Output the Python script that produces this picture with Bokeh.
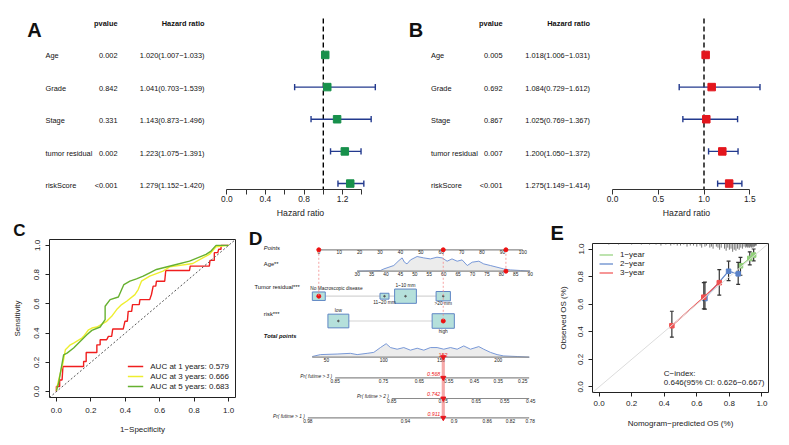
import math
from bokeh.plotting import figure
from bokeh.layouts import column, row
from bokeh.models import (Range1d, FixedTicker, Legend, LegendItem, Slope,
                          NumeralTickFormatter, CustomJSTickFormatter)
from bokeh.core.properties import value
from bokeh.embed import file_html
from bokeh.resources import INLINE

FONT = "Liberation Sans"

# ======================= DATA =======================
variables = ["Age", "Grade", "Stage", "tumor residual", "riskScore"]
# Panel A (univariate Cox)
uni_pvalue = ["0.002", "0.842", "0.331", "0.002", "<0.001"]
uni_hr = [1.020, 1.041, 1.143, 1.223, 1.279]
uni_low = [1.007, 0.703, 0.873, 1.075, 1.152]
uni_high = [1.033, 1.539, 1.496, 1.391, 1.420]
# Panel B (multivariate Cox)
multi_pvalue = ["0.005", "0.692", "0.867", "0.007", "<0.001"]
multi_hr = [1.018, 1.084, 1.025, 1.200, 1.275]
multi_low = [1.006, 0.729, 0.769, 1.050, 1.149]
multi_high = [1.031, 1.612, 1.367, 1.372, 1.414]
ticks_A = [0.0, 0.2, 0.4, 0.6, 0.8, 1.0, 1.2, 1.4]
ticks_B = [0.0, 0.5, 1.0, 1.5]

# Panel C (time-dependent ROC)
roc_labels = ["AUC at 1 years: 0.579", "AUC at 3 years: 0.666", "AUC at 5 years: 0.683"]
fpr_1y = [0, 0, 0.019, 0.019, 0.033, 0.038, 0.158, 0.158, 0.173, 0.173, 0.235, 0.235, 0.254, 0.254,
          0.292, 0.302, 0.321, 0.327, 0.388, 0.398, 0.412, 0.417, 0.437, 0.442, 0.481, 0.485,
          0.542, 0.552, 0.562, 0.577, 0.581, 0.629, 0.635, 0.773, 0.777, 0.888, 0.892, 0.917,
          0.917, 0.937, 0.942, 0.956, 0.956, 1.0]
tpr_1y = [0, 0.035, 0.035, 0.08, 0.08, 0.172, 0.172, 0.206, 0.206, 0.268, 0.268, 0.32, 0.32, 0.355,
          0.355, 0.378, 0.378, 0.428, 0.428, 0.481, 0.481, 0.549, 0.549, 0.595, 0.595, 0.629,
          0.629, 0.664, 0.721, 0.721, 0.755, 0.755, 0.828, 0.828, 0.858, 0.858, 0.897, 0.897,
          0.95, 0.95, 0.973, 0.973, 1.0, 1.0]
fpr_3y = [0, 0.013, 0.023, 0.038, 0.052, 0.081, 0.10, 0.148, 0.158, 0.187, 0.206, 0.235, 0.292,
          0.321, 0.35, 0.379, 0.408, 0.456, 0.475, 0.494, 0.542, 0.619, 0.658, 0.792, 0.85,
          0.888, 0.927, 1.0]
tpr_3y = [0.007, 0.08, 0.126, 0.195, 0.286, 0.32, 0.332, 0.366, 0.378, 0.423, 0.435, 0.442, 0.481,
          0.515, 0.561, 0.595, 0.618, 0.663, 0.698, 0.755, 0.789, 0.824, 0.853, 0.876, 0.915,
          0.938, 0.99, 1.0]
fpr_5y = [0, 0.013, 0.023, 0.042, 0.062, 0.10, 0.148, 0.177, 0.206, 0.254, 0.283, 0.283, 0.312,
          0.36, 0.379, 0.392, 0.427, 0.465, 0.504, 0.542, 0.581, 0.696, 0.773, 0.869, 0.898,
          0.927, 1.0]
tpr_5y = [0.007, 0.057, 0.126, 0.252, 0.263, 0.298, 0.355, 0.389, 0.419, 0.442, 0.492, 0.584,
          0.629, 0.647, 0.698, 0.732, 0.755, 0.771, 0.789, 0.812, 0.835, 0.869, 0.892, 0.938,
          0.961, 1.0, 1.0]

# Panel D (nomogram)
points_ticks = list(range(0, 101, 10))
age_ticks = list(range(30, 91, 5))
age_points_at_30 = 18.8
age_points_per_year = 1.4133
age_density_age = [30, 34.6, 38.1, 39.3, 42.7, 44.5, 45.6, 46.4, 47.3, 48.5, 50.8, 53.1, 55.4,
                   57.7, 59.5, 61.2, 62.9, 64.7, 66.4, 68.2, 69.9, 72.2, 73.9, 76.2, 78.5, 80.8,
                   83.1, 86.6, 90]
age_density_val = [0, 0.3, 0.7, 2.3, 5.7, 10.7, 13.3, 9, 7.3, 11.3, 14.7, 13.3, 12.3, 14, 13.3,
                   10, 12.3, 10, 11.3, 5.7, 9, 10, 7.3, 5.7, 4, 2.3, 1.3, 0.7, 0]
tumor_levels = ["No Macroscopic disease", "11~20 mm", "1~10 mm", ">20 mm"]
tumor_points = [0.0, 32.2, 42.5, 61.0]
tumor_prop = [0.18, 0.087, 0.51, 0.22]
risk_levels = ["low", "high"]
risk_points = [9.6, 61.0]
risk_prop = [0.47, 0.53]
total_ticks = [50, 100, 150, 200]
total_max = 227
total_density_pts = [37.5, 44.7, 59.3, 70.9, 76.8, 85.5, 91.3, 97.1, 102.1, 105.9, 111.7, 117.5,
                     123.3, 129.2, 135, 140.8, 146.6, 152.4, 158.3, 164.1, 169.9, 175.7, 183,
                     187.3, 193.2, 199, 204.8, 216.5, 227.2]
total_density_val = [0.7, 2.7, 3.3, 4, 2.7, 4, 5, 10, 14, 10, 8.3, 10, 7.3, 9.3, 7.3, 10, 10, 8.3,
                     10, 8.3, 11.7, 8.3, 11, 8.3, 5, 2.7, 1.3, 0.7, 0]
surv3_ticks = [0.85, 0.75, 0.65, 0.55, 0.45, 0.35, 0.25]
surv3_total = [57.6, 99.8, 131.1, 156.8, 179.2, 199.9, 221.4]
surv2_ticks = [0.85, 0.75, 0.65, 0.55, 0.45]
surv2_total = [107.0, 151.9, 180.7, 205.7, 228.4]
surv1_ticks = [0.98, 0.94, 0.9, 0.86, 0.82, 0.78]
surv1_total = [33.7, 119.0, 161.5, 190.3, 210.7, 227.9]
surv_labels = ["Pr( futime > 3 )", "Pr( futime > 2 )", "Pr( futime > 1 )"]
sel_age = 81.6
sel_tumor = 0
sel_risk = 1
sel_total = 152
sel_surv = ["0.568", "0.742", "0.911"]

# Panel E (calibration)
cal_names = ["1\u2212year", "2\u2212year", "3\u2212year"]
cal_pred = [[0.868, 0.925, 0.949], [0.65, 0.795, 0.854], [0.447, 0.643, 0.738]]
cal_obs = [[0.878, 0.932, 0.956], [0.641, 0.839, 0.82], [0.444, 0.651, 0.756]]
cal_low = [[0.81, 0.885, 0.914], [0.565, 0.771, 0.744], [0.361, 0.566, 0.666]]
cal_high = [[0.939, 0.98, 1.0], [0.76, 0.912, 0.903], [0.549, 0.756, 0.851]]
rug_pred = [0.06, 0.12, 0.2, 0.26, 0.31, 0.35, 0.38, 0.41, 0.44, 0.46, 0.48, 0.50, 0.52, 0.54,
            0.56, 0.58, 0.60, 0.62, 0.63, 0.65, 0.66, 0.68, 0.69, 0.70, 0.72, 0.73, 0.74, 0.75,
            0.77, 0.78, 0.79, 0.80, 0.81, 0.82, 0.83, 0.84, 0.85, 0.86, 0.87, 0.88, 0.89, 0.90,
            0.905, 0.91, 0.915, 0.92, 0.925, 0.93, 0.935, 0.94, 0.945, 0.95, 0.955, 0.96, 0.965]
rug_count = [1, 1, 1, 1, 1, 1, 2, 1, 2, 1, 2, 2, 1, 3, 2, 2, 3, 2, 4, 3, 2, 4, 3, 5, 3, 4, 6, 4,
             5, 7, 4, 6, 5, 8, 6, 7, 5, 6, 4, 5, 3, 4, 3, 4, 3, 4, 4, 3, 4, 3, 4, 3, 3, 2, 2]
cindex_text = ["C\u2212index:", "0.646(95% CI: 0.626\u22120.667)"]

# ======================= STYLE / LAYOUT =======================
PAGE_H = 445
H1 = 220
H2 = PAGE_H - H1
NAVY = "#233a8e"
GREEN_SQ = "#17904b"
RED_SQ = "#e3161d"
ROC_COLORS = ["#f01e1e", "#eeee30", "#66b030"]
CAL_COLORS = ["#92d07a", "#5a82c8", "#f05050"]
TXT = "#111111"
AXIS_Y = 191                    # px of the forest x axis
ROW_BOTTOM = H1 - AXIS_Y        # space under the forest frames for the x axis


def base_fig(**kw):
    p = figure(output_backend="svg", toolbar_location=None, frame_align=False, **kw)
    p.grid.visible = False
    p.background_fill_color = "white"
    p.border_fill_color = "white"
    return p


def r_of(py):  # layout helper: page px -> forest row coordinate (header=6, Age=5 ... riskScore=1)
    return 6 - (py - 22.5) / 32.5


ROW_RANGE = (r_of(AXIS_Y), r_of(0))
ROWS = [5, 4, 3, 2, 1]


def forest_table(letter, left, width, pv, hr, lo, hi, col):
    p = base_fig(width=width, height=H1, x_range=Range1d(left, left + width),
                 y_range=Range1d(*ROW_RANGE), x_axis_location=None, y_axis_location=None,
                 min_border_left=0, min_border_right=0, min_border_top=0,
                 min_border_bottom=ROW_BOTTOM)
    p.outline_line_color = None
    txt = dict(text_font=value(FONT), text_font_size="7.4px", text_color=TXT,
               text_baseline="middle")
    p.text(x=[col["var"]] * 5, y=ROWS, text=variables, text_align="left", **txt)
    p.text(x=[col["p"]] * 5, y=ROWS, text=pv, text_align="right", **txt)
    hr_txt = [f"{h:.3f}({l:.3f}\u2212{u:.3f})" for h, l, u in zip(hr, lo, hi)]
    p.text(x=[col["hr"]] * 5, y=ROWS, text=hr_txt, text_align="right", **txt)
    p.text(x=[col["p"], col["hr"]], y=[6.0, 6.0], text=["pvalue", "Hazard ratio"],
           text_align="right", text_font_style="bold", **txt)
    p.text(x=[col["letter"]], y=[r_of(29.3)], text=[letter], text_align="left",
           text_baseline="alphabetic", text_font=value(FONT), text_font_size="20px",
           text_font_style="bold", text_color=TXT)
    return p


def forest_plot(left, width, zero_px, ppu, hr, lo, hi, color, ticks, fmt):
    p = base_fig(width=width, height=H1,
                 x_range=Range1d((left - zero_px) / ppu, (left + width - zero_px) / ppu),
                 y_range=Range1d(*ROW_RANGE), y_axis_location=None,
                 x_axis_label="Hazard ratio",
                 min_border_left=0, min_border_right=0, min_border_top=0,
                 min_border_bottom=ROW_BOTTOM)
    p.outline_line_color = None
    p.segment(x0=[1], y0=[r_of(18.3)], x1=[1], y1=[ROW_RANGE[0]], line_color="black",
              line_width=1.4, line_dash="5 3")
    p.segment(x0=lo, y0=ROWS, x1=hi, y1=ROWS, line_color=NAVY, line_width=1.4)
    cap = 0.097
    for xs in (lo, hi):
        p.segment(x0=xs, y0=[r - cap for r in ROWS], x1=xs, y1=[r + cap for r in ROWS],
                  line_color=NAVY, line_width=1.4)
    p.scatter(x=hr, y=ROWS, marker="square", size=7.5, fill_color=color, line_color=color)
    ax = p.xaxis[0]
    ax.ticker = FixedTicker(ticks=ticks)
    ax.formatter = fmt
    ax.bounds = (ticks[0], ticks[-1])
    ax.major_tick_out = 5
    ax.major_tick_in = 0
    ax.minor_tick_out = 0
    ax.major_label_standoff = 1
    ax.axis_label_standoff = 3
    ax.axis_line_color = "#333"
    ax.major_tick_line_color = "#333"
    ax.major_label_text_font = FONT
    ax.major_label_text_font_size = "8.4px"
    ax.major_label_text_color = "#222"
    ax.axis_label_text_font = FONT
    ax.axis_label_text_font_size = "8.7px"
    ax.axis_label_text_font_style = "normal"
    ax.axis_label_text_color = "#222"
    return p


fmt_A = CustomJSTickFormatter(code="return (Math.round(tick*10) % 4 == 0) ? tick.toFixed(1) : '';")
pA_tab = forest_table("A", 0, 206, uni_pvalue, uni_hr, uni_low, uni_high,
                      dict(var=45, p=117, hr=204, letter=26.7))
pA_plot = forest_plot(206, 188, 226.3, 96.5, uni_hr, uni_low, uni_high, GREEN_SQ, ticks_A, fmt_A)
pB_tab = forest_table("B", 394, 197, multi_pvalue, multi_hr, multi_low, multi_high,
                      dict(var=430.5, p=502, hr=589.5, letter=408.3))
pB_plot = forest_plot(591, 190, 612.0, 91.5, multi_hr, multi_low, multi_high, RED_SQ, ticks_B,
                      NumeralTickFormatter(format="0.0"))


def r_axes(p, tick_sx, tick_sy, lab_sx, lab_sy):
    for ax, ts, ls in ((p.xaxis[0], tick_sx, lab_sx), (p.yaxis[0], tick_sy, lab_sy)):
        ax.ticker = FixedTicker(ticks=[0, 0.2, 0.4, 0.6, 0.8, 1.0])
        ax.formatter = NumeralTickFormatter(format="0.0")
        ax.major_tick_out = 4
        ax.major_tick_in = 0
        ax.minor_tick_out = 0
        ax.axis_line_color = None
        ax.major_tick_line_color = "#222"
        ax.major_label_text_font = FONT
        ax.major_label_text_font_size = "8px"
        ax.major_label_text_color = "#222"
        ax.major_label_standoff = ts
        ax.axis_label_text_font = FONT
        ax.axis_label_text_font_size = "8px"
        ax.axis_label_text_font_style = "normal"
        ax.axis_label_text_color = "#222"
        ax.axis_label_standoff = ls
    p.yaxis[0].major_label_orientation = "vertical"
    p.outline_line_color = "#222"
    p.outline_line_width = 1


def letter_fig(letter, left, width, top, height, lx, size):
    p = base_fig(width=width, height=height, x_range=Range1d(left, left + width),
                 y_range=Range1d(top + height, top), x_axis_location=None,
                 y_axis_location=None, min_border_left=0, min_border_right=0,
                 min_border_top=0, min_border_bottom=0)
    p.outline_line_color = None
    p.text(x=[lx], y=[top + height], text=[letter], text_align="left", text_baseline="bottom",
           text_font=value(FONT), text_font_size=size, text_font_style="bold",
           text_color=TXT)
    return p


# ---------------- Panel C ----------------
W_C, W_D, W_E = 245, 292, 252
C_L, C_T, C_W, C_H = 49, 239, 186, 158
pC_letter = letter_fig("C", 0, W_C, H1, C_T - H1, 12.7, "17px")
pC = base_fig(width=W_C, height=PAGE_H - C_T, x_range=Range1d(-0.04, 1.04),
              y_range=Range1d(-0.04, 1.04),
              min_border_left=C_L, min_border_right=W_C - C_L - C_W,
              min_border_top=0, min_border_bottom=PAGE_H - C_T - C_H,
              x_axis_label="1\u2212Specificity", y_axis_label="Sensitivity")
r_axes(pC, 6, 6, 9, 10)
pC.add_layout(Slope(gradient=1, y_intercept=0, line_color="#555555", line_width=1,
                    line_dash="2 2"))
roc_r = []
for xs, ys, c in ((fpr_1y, tpr_1y, ROC_COLORS[0]), (fpr_3y, tpr_3y, ROC_COLORS[1]),
                  (fpr_5y, tpr_5y, ROC_COLORS[2])):
    roc_r.append(pC.line(xs, ys, line_color=c, line_width=1.4))
legC = Legend(items=[LegendItem(label=l, renderers=[r]) for l, r in zip(roc_labels, roc_r)],
              location="bottom_right", border_line_color=None, background_fill_alpha=0,
              label_text_font=FONT, label_text_font_size="8px", label_text_color="#222",
              glyph_width=16, glyph_height=10, label_height=10, label_standoff=7,
              spacing=0, padding=0, margin=6)
pC.add_layout(legC)

# ---------------- Panel D ----------------
PT0, PPP = 318.3, 2.04      # px of 0 points, px per point
TT0, TPP = 268.75, 1.145    # px of 0 total points, px per total point
DL, DR = W_C, W_C + W_D
Y_PTS, Y_AGE, Y_TUM, Y_RISK, Y_TOT = 249.3, 270.7, 295.7, 320.5, 356.7
Y_PR = [377.3, 398.0, 417.3]
pD = base_fig(width=W_D, height=H2, x_range=Range1d((DL - PT0) / PPP, (DR - PT0) / PPP),
              y_range=Range1d(PAGE_H, H1), x_axis_location=None, y_axis_location=None,
              min_border_left=0, min_border_right=0, min_border_top=0, min_border_bottom=0)
pD.outline_line_color = None
pD.extra_x_ranges = {"tot": Range1d((DL - TT0) / TPP, (DR - TT0) / TPP),
                     "px": Range1d(DL, DR)}
AXC = "#8a8a8a"
small = dict(text_font=value(FONT), text_font_size="4.8px", text_color="#222")
name_style = dict(x_range_name="px", text_font=value(FONT), text_font_size="5.8px",
                  text_color=TXT, text_align="left", text_baseline="middle")
pD.text(x=[248.3], y=[238.3], text=["D"], x_range_name="px", text_font=value(FONT),
        text_font_size="19px", text_font_style="bold", text_color=TXT,
        text_baseline="alphabetic")
pD.text(x=[263.3], y=[247.7], text=["Points"], text_font_style="italic", **name_style)
pD.text(x=[263.3, 254, 263.3], y=[263.3, 286, 313], text=["Age**", "Tumor residual***", "risk***"],
        **name_style)
pD.text(x=[263.3], y=[335], text=["Total points"], text_font_style="bold italic", **name_style)

# Points scale
pD.segment(x0=[0], y0=[Y_PTS], x1=[100], y1=[Y_PTS], line_color=AXC, line_width=1.2)
pD.text(x=points_ticks, y=[Y_PTS + 0.6] * len(points_ticks), text=[str(t) for t in points_ticks],
        text_align="center", text_baseline="top", **small)

# Age scale + density
age_pts = [age_points_at_30 + (a - 30) * age_points_per_year for a in age_ticks]
dens_max = max(age_density_val)
age_dx = [age_points_at_30 + (a - 30) * age_points_per_year for a in age_density_age]
age_dy = [Y_AGE - 14.7 * v / dens_max for v in age_density_val]
pD.varea(x=age_dx, y1=[Y_AGE] * len(age_dx), y2=age_dy, fill_color="#ececec")
pD.line(age_dx, age_dy, line_color="#6a8dd4", line_width=0.9)
pD.segment(x0=[age_pts[0]], y0=[Y_AGE], x1=[age_pts[-1]], y1=[Y_AGE], line_color=AXC,
           line_width=1.2)
pD.text(x=age_pts, y=[Y_AGE + 0.8] * len(age_pts), text=[str(a) for a in age_ticks],
        text_align="center", text_baseline="top", **small)

# Tumor residual and risk boxes
for lv, pts, prop, yy, sel, pos in (
        (tumor_levels, tumor_points, tumor_prop, Y_TUM, sel_tumor, ["a", "b", "a", "b"]),
        (risk_levels, risk_points, risk_prop, Y_RISK, sel_risk, ["a", "b"])):
    pD.segment(x0=[min(pts)], y0=[yy], x1=[max(pts)], y1=[yy], line_color="#d4d4d4",
               line_width=1.2)
    ws = [14.95 * math.sqrt(q) for q in prop]
    hs = [20.0 * math.sqrt(q) for q in prop]
    pD.rect(x=pts, y=[yy] * len(pts), width=ws, height=hs, fill_color="#b5e0db",
            line_color="#5f86c4", line_width=1)
    pD.scatter(x=pts, y=[yy] * len(pts), size=1.6, color="#555555")
    for i, name in enumerate(lv):
        if pos[i] == "a":
            ty, tb = yy - hs[i] / 2 - 0.8, "bottom"
        else:
            ty, tb = yy + hs[i] / 2 + 0.6, "top"
        tx, ta = pts[i], "center"
        if name == "No Macroscopic disease":
            tx, ta = pts[i] - 8.5 / PPP, "left"
        pD.text(x=[tx], y=[ty], text=[name], text_align=ta, text_baseline=tb, **small)
    pD.scatter(x=[pts[sel]], y=[yy], size=4, color="#ee1111")

# selected points and dashed guides
age_sel_pts = age_points_at_30 + (sel_age - 30) * age_points_per_year
guides = [(tumor_points[sel_tumor], Y_TUM), (age_sel_pts, Y_AGE), (risk_points[sel_risk], Y_RISK)]
pD.segment(x0=[g[0] for g in guides], y0=[Y_PTS] * 3, x1=[g[0] for g in guides],
           y1=[g[1] for g in guides], line_color="#f28a8a", line_width=0.8, line_dash="2 2")
pD.scatter(x=[g[0] for g in guides], y=[Y_PTS] * 3, size=4, color="#ee1111")
pD.scatter(x=[age_sel_pts], y=[Y_AGE], size=4, color="#ee1111")

# Total points scale + density
tmax = max(total_density_val)
tot_dy = [Y_TOT - 13.5 * v / tmax for v in total_density_val]
pD.varea(x=total_density_pts, y1=[Y_TOT] * len(total_density_pts), y2=tot_dy,
         fill_color="#ececec", x_range_name="tot")
pD.line(total_density_pts, tot_dy, line_color="#6a8dd4", line_width=0.9, x_range_name="tot")
pD.segment(x0=[total_density_pts[0]], y0=[Y_TOT], x1=[total_max], y1=[Y_TOT], line_color=AXC,
           line_width=1.2, x_range_name="tot")
pD.text(x=total_ticks, y=[Y_TOT + 0.8] * 4, text=[str(t) for t in total_ticks],
        text_align="center", text_baseline="top", x_range_name="tot", **small)

# Survival probability scales
for k, (ticks, tots) in enumerate(((surv3_ticks, surv3_total), (surv2_ticks, surv2_total),
                                   (surv1_ticks, surv1_total))):
    yy = Y_PR[k]
    pD.segment(x0=[tots[0]], y0=[yy], x1=[total_max], y1=[yy], line_color=AXC, line_width=1.2,
               x_range_name="tot")
    pD.text(x=tots, y=[yy + 0.8] * len(tots), text=[f"{t:g}" for t in ticks],
            text_align="center", text_baseline="top", x_range_name="tot", **small)
    pD.text(x=[tots[0]], y=[yy - 1.6], text=[surv_labels[k]], text_align="right",
            text_baseline="middle", x_offset=-3, text_font_style="italic",
            x_range_name="tot", **small)

pD.segment(x0=[sel_total], y0=[Y_TOT - 2.5], x1=[sel_total], y1=[Y_PR[2]],
           line_color="#f07070", line_alpha=0.6, line_width=3.2, x_range_name="tot")
pD.scatter(x=[sel_total] * 4, y=[Y_TOT] + Y_PR, marker="inverted_triangle", size=5,
           color="#e8161d", x_range_name="tot")
pD.text(x=[sel_total], y=[Y_TOT - 2.7], text=[str(sel_total)], text_align="center",
        text_baseline="middle", x_range_name="tot", text_font=value(FONT),
        text_font_size="5.3px", text_color="#ee2222")
pD.text(x=[sel_total] * 3, y=[373.5, 393.0, 413.0], text=sel_surv, text_align="right",
        text_baseline="middle", x_offset=-3, x_range_name="tot", text_font=value(FONT),
        text_font_size="5.3px", text_font_style="italic", text_color="#ee2222")

# ---------------- Panel E ----------------
E_L, E_T, E_W, E_H = 55, 243, 176, 149
E_X0 = W_C + W_D
pE_letter = letter_fig("E", E_X0, W_E, H1, E_T - H1, 550, "20px")
pE = base_fig(width=W_E, height=PAGE_H - E_T, x_range=Range1d(-0.04, 1.04),
              y_range=Range1d(-0.04, 1.04),
              min_border_left=E_L, min_border_right=W_E - E_L - E_W,
              min_border_top=0, min_border_bottom=PAGE_H - E_T - E_H,
              x_axis_label="Nomogram\u2212predicted OS (%)", y_axis_label="Observed OS (%)")
r_axes(pE, 4, 5, 10, 8)
pE.add_layout(Slope(gradient=1, y_intercept=0, line_color="#dcdcdc", line_width=1))
pE.segment(x0=rug_pred, y0=[1.04] * len(rug_pred), x1=rug_pred,
           y1=[1.04 - 0.0075 * c for c in rug_count], line_color="#555555", line_width=0.8)
cal_r = []
for k in range(3):
    xs, ys, c = cal_pred[k], cal_obs[k], CAL_COLORS[k]
    cal_r.append(pE.line(xs, ys, line_color=c, line_width=1.2))
for k in range(3):
    xs, ys, lo, hi, c = cal_pred[k], cal_obs[k], cal_low[k], cal_high[k], CAL_COLORS[k]
    pE.segment(x0=xs, y0=lo, x1=xs, y1=hi, line_color="#333333", line_width=1.2)
    for yv in (lo, hi):
        pE.segment(x0=[x - 0.012 for x in xs], y0=yv, x1=[x + 0.012 for x in xs], y1=yv,
                   line_color="#333333", line_width=1.2)
    pE.scatter(x=xs, y=ys, marker="square", size=4.5, fill_color=c, line_color=c)


def ex(px):
    return -0.04 + (px - (E_X0 + E_L)) / E_W * 1.08


def ey(py):
    return 1.04 - (py - E_T) / E_H * 1.08


pE.text(x=[ex(663.3)] * 2, y=[ey(372.7), ey(381.7)], text=cindex_text, text_align="left",
        text_baseline="middle", text_font=value(FONT), text_font_size="8px", text_color="#222")
legE = Legend(items=[LegendItem(label=l, renderers=[r]) for l, r in zip(cal_names, cal_r)],
              location="top_left", border_line_color=None, background_fill_alpha=0,
              label_text_font=FONT, label_text_font_size="8px", label_text_color="#222",
              glyph_width=14, glyph_height=9, label_height=9, label_standoff=7,
              spacing=0, padding=0, margin=7)
pE.add_layout(legE)

layout = column(row(pA_tab, pA_plot, pB_tab, pB_plot),
                row(column(pC_letter, pC), pD, column(pE_letter, pE)))
open("out.html", "w").write(file_html(layout, INLINE))
